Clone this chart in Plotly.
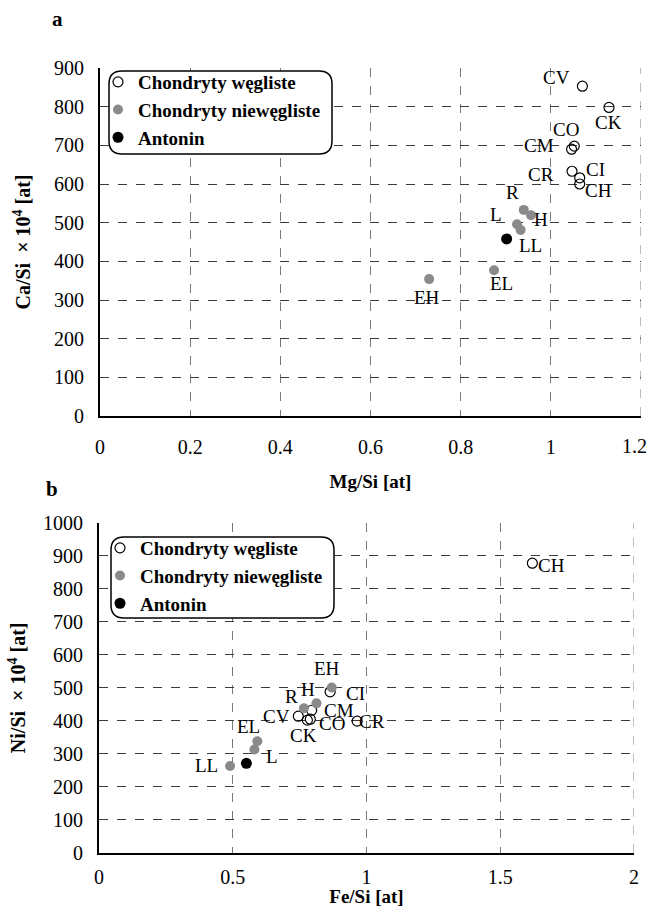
import plotly.graph_objects as go

W, H = 650, 907

# ---------------- data: panel a (Mg/Si vs Ca/Si) ----------------
a_carb_names = ["CV", "CK", "CO", "CM", "CR", "CI", "CH"]
a_carb_mg = [1.070, 1.129, 1.052, 1.046, 1.047, 1.064, 1.064]
a_carb_ca = [853, 798, 698, 690, 633, 616, 600]

a_ord_names = ["R", "H", "L", "LL", "EH", "EL"]
a_ord_mg = [0.940, 0.956, 0.925, 0.933, 0.730, 0.874]
a_ord_ca = [533, 519, 496, 481, 354, 377]

a_ant_mg = [0.902]
a_ant_ca = [458]

a_xticks = [0, 0.2, 0.4, 0.6, 0.8, 1.0, 1.2]
a_xticktext = ["0", "0.2", "0.4", "0.6", "0.8", "1", "1.2"]
a_yticks = [0, 100, 200, 300, 400, 500, 600, 700, 800, 900]

# ---------------- data: panel b (Fe/Si vs Ni/Si) ----------------
b_carb_names = ["CH", "CI", "CM", "CV", "CK", "CO", "CR"]
b_carb_fe = [1.620, 0.864, 0.795, 0.745, 0.779, 0.790, 0.965]
b_carb_ni = [878, 488, 432, 414, 402, 405, 399]

b_ord_names = ["EH", "H", "R", "EL", "L", "LL"]
b_ord_fe = [0.870, 0.813, 0.766, 0.592, 0.581, 0.490]
b_ord_ni = [501, 453, 438, 338, 313, 263]

b_ant_fe = [0.551]
b_ant_ni = [271]

b_xticks = [0, 0.5, 1.0, 1.5, 2.0]
b_xticktext = ["0", "0.5", "1", "1.5", "2"]
b_yticks = [0, 100, 200, 300, 400, 500, 600, 700, 800, 900, 1000]

legend_names = ["Chondryty węgliste", "Chondryty niewęgliste", "Antonin"]

# ---------------- label offsets (pixels, dx right, dy up) ----------------
a_off = {"CV": (-26, 9), "CK": (0, -15), "CO": (-8, 17), "CM": (-33, 4),
         "CR": (-31, -3), "CI": (16, 8), "CH": (19, -6), "R": (-11, 17),
         "H": (10, -4), "L": (-21, 10), "LL": (10, -15), "EH": (-2, -18),
         "EL": (7, -13)}
b_off = {"CH": (19, -2), "CI": (25, -2), "CM": (27, 0), "CV": (-22, 0),
         "CK": (-4, -15), "CO": (22, -4), "CR": (15, 0), "EH": (-5, 19),
         "H": (-8, 14), "R": (-12, 12), "EL": (-9, 15), "L": (18, -7),
         "LL": (-24, 0)}

SERIF = "Liberation Serif"


def px(xp):
    return xp / W


def py(yp):
    return 1 - yp / H


fig = go.Figure()

open_marker = dict(symbol="circle-open", size=10, color="black", line=dict(width=1.2))
gray_marker = dict(symbol="circle", size=10, color="#8a8a8a", line=dict(width=0))
black_marker = dict(symbol="circle", size=11, color="black", line=dict(width=0))

for xs, ys, mk, nm, gi in [(a_carb_mg, a_carb_ca, open_marker, legend_names[0], "g1"),
                           (a_ord_mg, a_ord_ca, gray_marker, legend_names[1], "g2"),
                           (a_ant_mg, a_ant_ca, black_marker, legend_names[2], "g3")]:
    fig.add_trace(go.Scatter(x=xs, y=ys, mode="markers", marker=mk,
                             name="<b>" + nm + "</b>", legendgroup=gi,
                             xaxis="x", yaxis="y", legend="legend",
                             hoverinfo="skip"))

for xs, ys, mk, nm, gi in [(b_carb_fe, b_carb_ni, open_marker, legend_names[0], "h1"),
                           (b_ord_fe, b_ord_ni, gray_marker, legend_names[1], "h2"),
                           (b_ant_fe, b_ant_ni, black_marker, legend_names[2], "h3")]:
    fig.add_trace(go.Scatter(x=xs, y=ys, mode="markers", marker=mk,
                             name="<b>" + nm + "</b>", legendgroup=gi,
                             xaxis="x2", yaxis="y2", legend="legend2",
                             hoverinfo="skip"))

annotations = []
for names, xs, ys, off, xr, yr in [
        (a_carb_names, a_carb_mg, a_carb_ca, a_off, "x", "y"),
        (a_ord_names, a_ord_mg, a_ord_ca, a_off, "x", "y"),
        (b_carb_names, b_carb_fe, b_carb_ni, b_off, "x2", "y2"),
        (b_ord_names, b_ord_fe, b_ord_ni, b_off, "x2", "y2")]:
    for n, xv, yv in zip(names, xs, ys):
        dx, dy = off[n]
        annotations.append(dict(x=xv, y=yv, xref=xr, yref=yr, text=n,
                                showarrow=False, xshift=dx, yshift=dy,
                                font=dict(family=SERIF, size=19, color="black")))

annotations.append(dict(x=px(57), y=py(19), xref="paper", yref="paper", text="<b>a</b>",
                        showarrow=False, xanchor="center", yanchor="middle",
                        font=dict(family=SERIF, size=21, color="black")))
annotations.append(dict(x=px(52), y=py(489), xref="paper", yref="paper", text="<b>b</b>",
                        showarrow=False, xanchor="center", yanchor="middle",
                        font=dict(family=SERIF, size=21, color="black")))

tickfont = dict(family=SERIF, size=20, color="black")

# last tick label of panel a sits at the page edge: draw it right-aligned so it stays whole
annotations.append(dict(x=a_xticks[-1], y=a_yticks[0], xref="x", yref="y",
                        text=a_xticktext[-1], showarrow=False,
                        xanchor="right", yanchor="top", xshift=7, yshift=-18,
                        borderpad=0, font=tickfont))
a_axis_ticktext = a_xticktext[:-1] + [""]


def rounded_box(x0, y0, x1, y1, r):
    X0, X1 = px(x0), px(x1)
    Y0, Y1 = py(y0), py(y1)
    rx, ry = r / W, r / H
    return (f"M {X0+rx},{Y0} L {X1-rx},{Y0} Q {X1},{Y0} {X1},{Y0-ry} "
            f"L {X1},{Y1+ry} Q {X1},{Y1} {X1-rx},{Y1} L {X0+rx},{Y1} "
            f"Q {X0},{Y1} {X0},{Y1+ry} L {X0},{Y0-ry} Q {X0},{Y0} {X0+rx},{Y0} Z")


VGRID = "#7a7a7a"
HGRID = "#3a3a3a"

shapes = [
    # dashed right-hand borders (last vertical grid line of each panel)
    dict(type="line", xref="x", yref="y domain", x0=a_xticks[-1], x1=a_xticks[-1], y0=0, y1=1,
         line=dict(color=VGRID, width=1, dash="dash"), layer="below"),
    dict(type="line", xref="x2", yref="y2 domain", x0=b_xticks[-1], x1=b_xticks[-1], y0=0, y1=1,
         line=dict(color=VGRID, width=1, dash="dash"), layer="below"),
    # rounded legend frames
    dict(type="path", xref="paper", yref="paper", path=rounded_box(109, 71, 332, 154, 13),
         fillcolor="white", line=dict(color="black", width=1.5), layer="above"),
    dict(type="path", xref="paper", yref="paper", path=rounded_box(111, 537, 334, 618, 13),
         fillcolor="white", line=dict(color="black", width=1.5), layer="above"),
]


def xaxis(dom, rng, tv, tt, title, anchor, lab_sd, standoff):
    return dict(domain=dom, range=rng, tickmode="array", tickvals=tv, ticktext=tt,
                anchor=anchor,
                showline=True, linecolor="black", linewidth=2, mirror=False,
                showgrid=True, gridcolor=VGRID, gridwidth=1, griddash="dash",
                zeroline=False, ticks="", tickfont=tickfont, ticklabelstandoff=lab_sd,
                title=dict(text="<b>" + title + "</b>",
                           font=dict(family=SERIF, size=19, color="black"),
                           standoff=standoff),
                automargin=False, fixedrange=True)


def yaxis(dom, rng, tv, title, anchor, standoff):
    return dict(domain=dom, range=rng, tickmode="array", tickvals=tv, anchor=anchor,
                showline=True, linecolor="black", linewidth=2, mirror=False,
                showgrid=True, gridcolor=HGRID, gridwidth=1, griddash="dash",
                zeroline=False, ticks="", tickfont=tickfont, ticklabelstandoff=10,
                title=dict(text="<b>" + title + "</b>",
                           font=dict(family=SERIF, size=20, color="black"),
                           standoff=standoff),
                automargin=False, fixedrange=True)


legend_common = dict(font=dict(family=SERIF, size=19, color="black"),
                     bgcolor="rgba(0,0,0,0)", borderwidth=0,
                     xanchor="left", yanchor="top", tracegroupgap=3,
                     itemsizing="trace", traceorder="normal")

fig.update_layout(
    width=W, height=H,
    template="none",
    paper_bgcolor="white", plot_bgcolor="white",
    margin=dict(l=0, r=0, t=0, b=0),
    showlegend=True,
    xaxis=xaxis([px(100), px(641)], [0, 1.2], a_xticks, a_axis_ticktext, "Mg/Si [at]", "y", 12, 18),
    yaxis=yaxis([py(416), py(68)], [0, 900], a_yticks, "Ca/Si  × 10<sup>4</sup> [at]", "x", 18),
    xaxis2=xaxis([px(99), px(634)], [0, 2], b_xticks, b_xticktext, "Fe/Si [at]", "y2", 5, 12),
    yaxis2=yaxis([py(852.7), py(523)], [0, 1000], b_yticks, "Ni/Si  × 10<sup>4</sup> [at]", "x2", 12),
    legend=dict(x=px(98), y=py(63), **legend_common),
    legend2=dict(x=px(100), y=py(529), **legend_common),
    annotations=annotations,
    shapes=shapes,
)

fig.write_html("out.html")
